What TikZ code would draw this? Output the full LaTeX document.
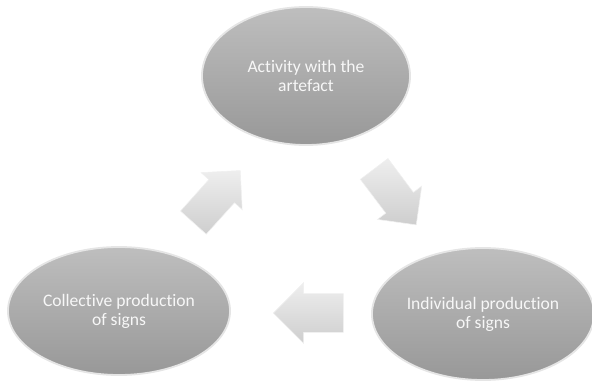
\documentclass[tikz,border=0pt]{standalone}
\usepackage{fontspec}
\setmainfont{Carlito}[Ligatures=NoCommon]
\usepackage{tikz}
\usepackage{xcolor}
\usetikzlibrary{shapes.geometric}
\usetikzlibrary{shapes.arrows}
\definecolor{ovaltop}{RGB}{190,190,190}
\definecolor{ovalbot}{RGB}{152,152,152}
\definecolor{arrowtop}{RGB}{238,238,238}
\definecolor{arrowbot}{RGB}{206,206,206}
\tikzset{stage/.style={ellipse,draw=white!80!gray,line width=1.3pt,
   top color=ovaltop,bottom color=ovalbot,text=white!94!gray,align=center,
   inner sep=0pt,font=\fontsize{12.5}{13.5}\selectfont},
 flow/.style={single arrow,draw=white!88!gray,line width=0.4pt,
   top color=arrowtop,bottom color=arrowbot,inner xsep=0pt,
   single arrow tip angle=90,single arrow head indent=0pt},
 }

\begin{document}
\begin{tikzpicture}[x=0.025cm,y=-0.025cm]
        \useasboundingbox (0,0) rectangle (592,381);
        \node[stage,minimum width=5.2cm,minimum height=3.45cm] (activity) at (306,76) {Activity with the\\artefact};
        \node[stage,minimum width=5.55cm,minimum height=3.2cm] (collective) at (119,311) {Collective production\\of signs};
        \node[stage,minimum width=5.55cm,minimum height=3.3cm] (individual) at (483,314) {Individual production\\of signs};
        \node[flow,minimum height=1.75cm,inner ysep=0.425cm,single arrow head extend=0.26cm,rotate=-53] (toindiv) at (390,190) {};
        \node[flow,minimum height=1.75cm,inner ysep=0.475cm,single arrow head extend=0.275cm,rotate=180] (tocoll) at (318,313) {};
        \node[flow,minimum height=1.75cm,inner ysep=0.425cm,single arrow head extend=0.26cm,rotate=48] (toact) at (211,203) {};
    \end{tikzpicture}
\end{document}
